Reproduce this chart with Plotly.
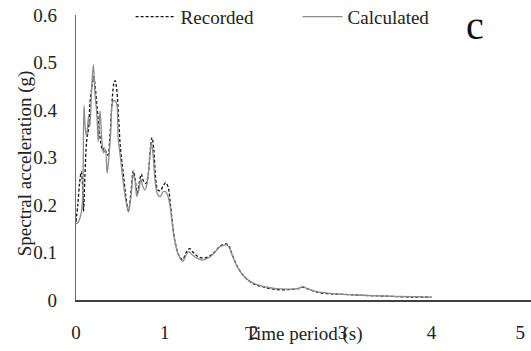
import plotly.graph_objects as go

# Response spectrum: period (s) vs spectral acceleration (g)
period_recorded = [0.00, 0.02, 0.04, 0.06, 0.075, 0.085, 0.10, 0.12, 0.14, 0.16, 0.18, 0.20, 0.215,
                   0.24, 0.26, 0.28, 0.30, 0.32, 0.34, 0.36, 0.38, 0.40, 0.425, 0.44, 0.46, 0.48,
                   0.50, 0.53, 0.56, 0.59, 0.62, 0.645, 0.665, 0.69, 0.71, 0.735, 0.76, 0.785,
                   0.81, 0.835, 0.855, 0.875, 0.895, 0.92, 0.95, 0.98, 1.01, 1.04, 1.06, 1.09,
                   1.12, 1.16, 1.20, 1.24, 1.28, 1.32, 1.37, 1.43, 1.50, 1.56, 1.62, 1.69, 1.72,
                   1.76, 1.82, 1.90, 2.00, 2.12, 2.25, 2.40, 2.50, 2.55, 2.60, 2.70, 2.85, 3.00,
                   3.20, 3.50, 3.80, 4.00]
sa_recorded = [0.165, 0.200, 0.245, 0.270, 0.235, 0.186, 0.260, 0.335, 0.360, 0.420, 0.450, 0.470,
               0.450, 0.400, 0.360, 0.330, 0.315, 0.320, 0.310, 0.305, 0.340, 0.400, 0.455, 0.462,
               0.440, 0.380, 0.320, 0.270, 0.220, 0.188, 0.230, 0.272, 0.255, 0.225, 0.245, 0.265,
               0.250, 0.245, 0.260, 0.315, 0.342, 0.318, 0.260, 0.232, 0.230, 0.240, 0.247, 0.235,
               0.205, 0.155, 0.118, 0.093, 0.085, 0.100, 0.108, 0.100, 0.092, 0.088, 0.092, 0.101,
               0.113, 0.118, 0.114, 0.095, 0.069, 0.048, 0.034, 0.027, 0.022, 0.022, 0.024, 0.027,
               0.024, 0.017, 0.013, 0.012, 0.010, 0.008, 0.006, 0.006]

period_calculated = [0.00, 0.02, 0.04, 0.06, 0.075, 0.09, 0.105, 0.12, 0.14, 0.155, 0.175, 0.195,
                     0.215, 0.235, 0.25, 0.27, 0.29, 0.31, 0.33, 0.35, 0.37, 0.39, 0.41, 0.43,
                     0.455, 0.475, 0.50, 0.53, 0.56, 0.59, 0.62, 0.645, 0.665, 0.685, 0.71, 0.73,
                     0.75, 0.775, 0.80, 0.83, 0.85, 0.87, 0.89, 0.92, 0.95, 0.98, 1.01, 1.04, 1.06,
                     1.09, 1.12, 1.16, 1.20, 1.24, 1.27, 1.31, 1.36, 1.43, 1.50, 1.56, 1.62, 1.69,
                     1.72, 1.76, 1.82, 1.90, 2.00, 2.12, 2.25, 2.40, 2.50, 2.55, 2.60, 2.70, 2.85,
                     3.00, 3.20, 3.50, 3.80, 4.00]
sa_calculated = [0.160, 0.163, 0.170, 0.185, 0.215, 0.410, 0.360, 0.345, 0.385, 0.365, 0.440, 0.495,
                 0.430, 0.390, 0.333, 0.398, 0.340, 0.310, 0.316, 0.267, 0.300, 0.350, 0.415, 0.420,
                 0.415, 0.340, 0.300, 0.250, 0.210, 0.185, 0.220, 0.265, 0.250, 0.218, 0.235, 0.255,
                 0.240, 0.232, 0.245, 0.300, 0.330, 0.300, 0.250, 0.222, 0.218, 0.228, 0.228, 0.215,
                 0.195, 0.150, 0.115, 0.092, 0.081, 0.095, 0.102, 0.095, 0.088, 0.084, 0.090, 0.100,
                 0.112, 0.116, 0.112, 0.093, 0.068, 0.048, 0.035, 0.028, 0.024, 0.023, 0.024, 0.028,
                 0.024, 0.018, 0.014, 0.012, 0.010, 0.008, 0.007, 0.006]

x_ticks = [0, 1, 2, 3, 4, 5]
y_ticks = [0, 0.1, 0.2, 0.3, 0.4, 0.5, 0.6]

FONT = "'Liberation Serif', 'Times New Roman', Times, serif"

fig = go.Figure()
fig.add_trace(go.Scatter(x=period_recorded, y=sa_recorded, mode="lines", name="Recorded",
                         line=dict(color="#111111", width=1.3, dash="3px,2px"),
                         line_shape="spline"))
fig.add_trace(go.Scatter(x=period_calculated, y=sa_calculated, mode="lines", name="Calculated",
                         line=dict(color="#8c8c8c", width=1.3), line_shape="spline"))

fig.update_layout(
    width=531, height=351,
    margin=dict(l=76, r=0, t=15, b=51, autoexpand=False),
    paper_bgcolor="white", plot_bgcolor="white",
    font=dict(family=FONT, size=19, color="#222222"),
    showlegend=True,
    legend=dict(orientation="h", x=0.12, xanchor="left", y=0.952, yref="container",
                yanchor="middle", bgcolor="rgba(0,0,0,0)", font=dict(size=19, family=FONT),
                entrywidth=112, entrywidthmode="pixels", itemwidth=40),
    xaxis=dict(range=[0, 5.12], tickvals=x_ticks, ticktext=[str(v) for v in x_ticks],
               showgrid=False, zeroline=False, showline=True, linecolor="#404040", linewidth=1.5,
               ticks="", ticklabelstandoff=14, automargin=False,
               tickfont=dict(size=19, family=FONT)),
    yaxis=dict(range=[0, 0.6], tickvals=y_ticks, ticktext=["0", "0.1", "0.2", "0.3", "0.4", "0.5", "0.6"],
               showgrid=False, zeroline=False, showline=True, linecolor="#6a6a6a", linewidth=1.2,
               ticks="", ticklabelstandoff=14, automargin=False,
               tickfont=dict(size=19, family=FONT)),
    annotations=[
        dict(text="Time period (s)", x=0.5, xref="paper", y=-0.12, yref="paper",
             showarrow=False, font=dict(size=19, family=FONT), yanchor="middle"),
        dict(text="Spectral acceleration (g)", x=-0.112, xref="paper", y=0.48, yref="paper",
             textangle=-90, showarrow=False, font=dict(size=19, family=FONT), xanchor="center"),
        dict(text="c", x=0.902, xref="paper", y=1.05, yref="paper", yanchor="top",
             showarrow=False, font=dict(size=40, family=FONT, color="#111111")),
    ],
)

fig.write_html("out.html")
